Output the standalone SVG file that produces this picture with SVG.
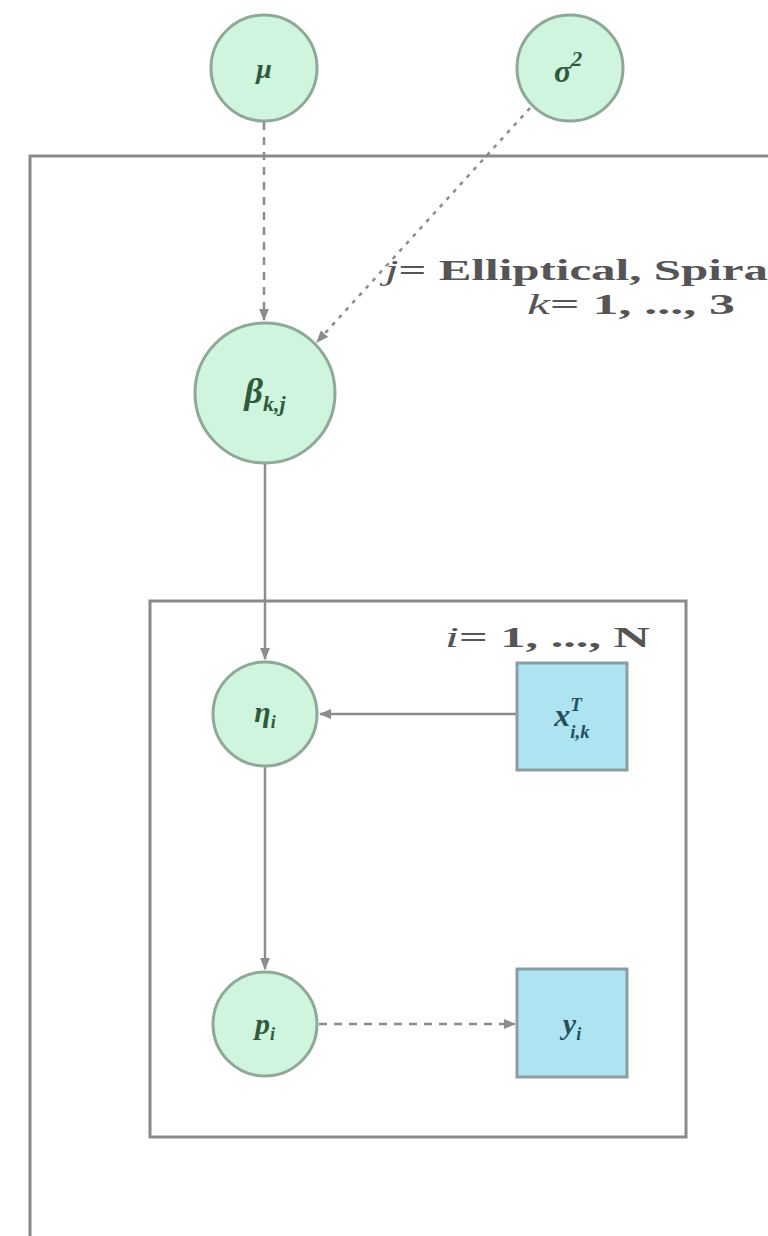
<svg xmlns="http://www.w3.org/2000/svg" width="768" height="1236" viewBox="0 0 768 1236">
<defs>
<style>
.plate{fill:none;stroke:#8a8a8a;stroke-width:3}
.circ{fill:#cff5de;stroke:#8fa898;stroke-width:3}
.box{fill:#aee3f1;stroke:#8b9ea3;stroke-width:3}
.edge{fill:none;stroke:#8c8c8c;stroke-width:2.5}
.dash{stroke-dasharray:8 7}
.dot{stroke-dasharray:4 6}
.lbl{font-family:"Liberation Serif",serif;font-style:italic;font-weight:bold;fill:#2f5a3c;text-anchor:middle}
.blbl{font-family:"Liberation Serif",serif;font-style:italic;font-weight:bold;fill:#24505c;text-anchor:middle}
.ptxt{font-family:"Liberation Serif",serif;fill:#555;font-size:29px;font-weight:bold}
</style>
<marker id="ah" viewBox="0 0 10 10" refX="9" refY="5" markerWidth="5" markerHeight="5" orient="auto">
<path d="M0,1 L10,5 L0,9 Z" fill="#8c8c8c"/>
</marker>
</defs>
<rect width="768" height="1236" fill="#ffffff"/>
<g id="plates">
<path class="plate" d="M30,1240 L30,156 L775,156"/>
<rect class="plate" x="150" y="601" width="536" height="536"/>
<text class="ptxt" x="385" y="280" textLength="383" lengthAdjust="spacingAndGlyphs"><tspan font-style="italic" font-weight="normal">j</tspan>= Elliptical, Spira</text>
<text class="ptxt" x="527" y="314" textLength="208" lengthAdjust="spacingAndGlyphs"><tspan font-style="italic" font-weight="normal">k</tspan>= 1, ..., 3</text>
<text class="ptxt" x="445" y="647" textLength="205" lengthAdjust="spacingAndGlyphs"><tspan font-style="italic" font-weight="normal">i</tspan>= 1, ..., N</text>
</g>
<g id="edges">
<line class="edge dash" x1="264" y1="122" x2="264" y2="320" marker-end="url(#ah)"/>
<line class="edge dot" x1="530" y1="108" x2="317" y2="342" marker-end="url(#ah)"/>
<line class="edge" x1="265" y1="463" x2="265" y2="659" marker-end="url(#ah)"/>
<line class="edge" x1="517" y1="714" x2="320" y2="714" marker-end="url(#ah)"/>
<line class="edge" x1="265" y1="767" x2="265" y2="969" marker-end="url(#ah)"/>
<line class="edge dash" x1="319" y1="1024" x2="515" y2="1024" marker-end="url(#ah)"/>
</g>
<g id="node-mu">
<circle class="circ" cx="264" cy="68" r="53"/>
<text class="lbl" x="264" y="78" font-size="28">μ</text>
</g>
<g id="node-sigma">
<circle class="circ" cx="570" cy="68" r="53"/>
<text class="lbl" x="568" y="82" font-size="32">σ<tspan font-size="22" dy="-16">2</tspan></text>
</g>
<g id="node-beta">
<circle class="circ" cx="265" cy="393" r="70"/>
<text class="lbl" x="265" y="403" font-size="36">β<tspan font-size="22" dy="8">k,j</tspan></text>
</g>
<g id="node-eta">
<circle class="circ" cx="265" cy="714" r="52"/>
<text class="lbl" x="265" y="722" font-size="30">η<tspan font-size="18" dy="6">i</tspan></text>
</g>
<g id="node-x">
<rect class="box" x="517" y="663" width="110" height="107"/>
<text class="blbl" x="572" y="726" font-size="32">x<tspan font-size="19" dy="-15">T</tspan><tspan font-size="19" dx="-11" dy="27">i,k</tspan></text>
</g>
<g id="node-p">
<circle class="circ" cx="265" cy="1024" r="52"/>
<text class="lbl" x="265" y="1034" font-size="30">p<tspan font-size="18" dy="6">i</tspan></text>
</g>
<g id="node-y">
<rect class="box" x="517" y="969" width="110" height="108"/>
<text class="blbl" x="572" y="1034" font-size="30">y<tspan font-size="18" dy="6">i</tspan></text>
</g>
</svg>
